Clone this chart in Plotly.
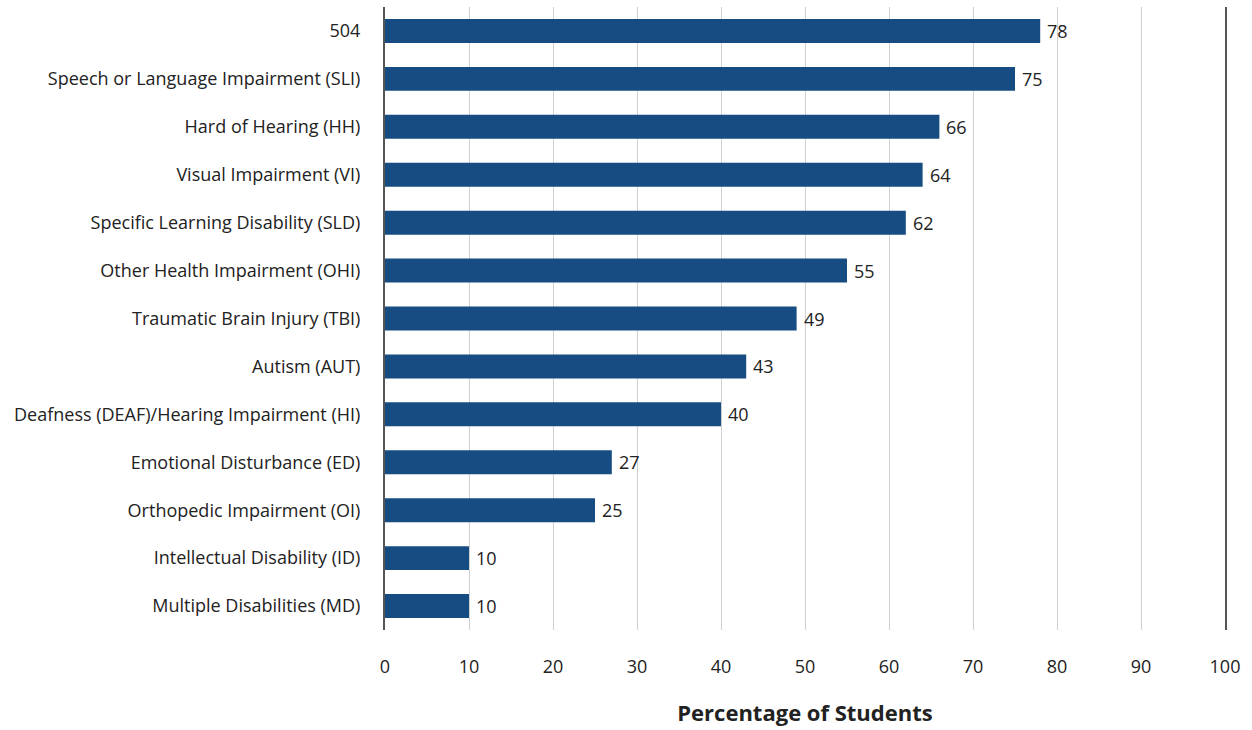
import plotly.graph_objects as go

categories = [
    "504",
    "Speech or Language Impairment (SLI)",
    "Hard of Hearing (HH)",
    "Visual Impairment (VI)",
    "Specific Learning Disability (SLD)",
    "Other Health Impairment (OHI)",
    "Traumatic Brain Injury (TBI)",
    "Autism (AUT)",
    "Deafness (DEAF)/Hearing Impairment (HI)",
    "Emotional Disturbance (ED)",
    "Orthopedic Impairment (OI)",
    "Intellectual Disability (ID)",
    "Multiple Disabilities (MD)",
]
values = [78, 75, 66, 64, 62, 55, 49, 43, 40, 27, 25, 10, 10]
x_ticks = [0, 10, 20, 30, 40, 50, 60, 70, 80, 90, 100]

FONT = "'Open Sans', Lato, sans-serif"
TEXT = "#222222"
BAR = "#164c82"
SIZE = 18

fig = go.Figure(
    go.Bar(
        x=values,
        y=categories,
        orientation="h",
        width=0.5,
        marker=dict(color=BAR, line=dict(width=0)),
        hoverinfo="x+y",
    )
)

# value labels just past the end of each bar (positioned by category index)
for i, val in enumerate(values):
    fig.add_annotation(
        x=val, y=i, text=str(val), showarrow=False,
        xanchor="left", xshift=5,
        font=dict(family=FONT, size=SIZE, color=TEXT),
    )

fig.update_layout(
    width=1252, height=730,
    margin=dict(l=385, r=27, t=7, b=100),
    paper_bgcolor="white", plot_bgcolor="white",
    showlegend=False,
    font=dict(family=FONT, size=SIZE, color=TEXT),
)
fig.update_xaxes(
    range=[0, 100], tickvals=x_ticks,
    showgrid=True, gridcolor="#d0d0d0", gridwidth=1,
    zeroline=False, showline=False, ticks="",
    ticklabelstandoff=24,
    title=dict(text="<b>Percentage of Students</b>", standoff=28,
               font=dict(family=FONT, size=22, color=TEXT)),
)
fig.update_yaxes(
    type="category",
    categoryorder="array", categoryarray=categories,
    range=[len(categories) - 0.5, -0.5],
    showline=True, mirror=True, linecolor="#555555", linewidth=2,
    showgrid=False, ticks="", ticklabelstandoff=19,
)

fig.write_html("out.html")
